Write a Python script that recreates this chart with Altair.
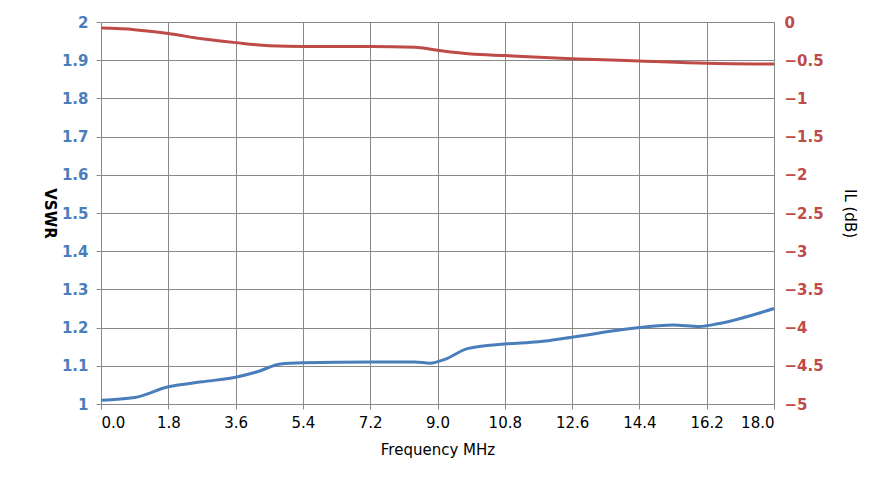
import altair as alt
import pandas as pd

freq_v = [0, 0.9, 1.8, 2.7, 3.6, 4.2, 4.8, 5.4, 7.2, 8.4, 8.8, 9.2, 9.8, 10.8, 11.7, 12.6, 14.4, 15.3, 16.0, 16.5, 18.0]
vswr = [1.01, 1.017, 1.045, 1.058, 1.07, 1.085, 1.105, 1.108, 1.11, 1.11, 1.107, 1.117, 1.145, 1.157, 1.163, 1.175, 1.2, 1.207, 1.203, 1.21, 1.25]
freq_i = [0, 0.9, 1.8, 2.7, 3.6, 4.5, 5.4, 7.2, 8.4, 9.0, 9.9, 10.8, 12.6, 14.4, 16.2, 18.0]
il = [-0.08, -0.1, -0.15, -0.22, -0.27, -0.31, -0.32, -0.32, -0.33, -0.37, -0.42, -0.44, -0.48, -0.51, -0.54, -0.55]
xticks = [0, 1.8, 3.6, 5.4, 7.2, 9.0, 10.8, 12.6, 14.4, 16.2, 18.0]

dv = pd.DataFrame({"f": freq_v, "v": vswr})
di = pd.DataFrame({"f": freq_i, "il": il})
font = "DejaVu Sans"
xenc = alt.X("f:Q", scale=alt.Scale(domain=[0, 18], nice=False),
             axis=alt.Axis(values=xticks, format=".1f", title="Frequency MHz", labelFontSize=15,
                           titleFontSize=15, titleFontWeight="normal", labelColor="black",
                           titleColor="black", gridColor="#888", domain=False, tickColor="#888",
                           labelFont=font, titleFont=font, titlePadding=12, labelPadding=6))
blue = "#4A7EBB"; red = "#BE4B48"
l1 = alt.Chart(dv).mark_line(color=blue, strokeWidth=3, interpolate="monotone").encode(
    x=xenc,
    y=alt.Y("v:Q", scale=alt.Scale(domain=[1, 2], nice=False),
            axis=alt.Axis(values=[1 + i / 10 for i in range(11)], format=".1~f", title="VSWR",
                          titleAngle=90, labelColor=blue, labelFontSize=15, labelFontWeight="bold",
                          titleFontSize=15, titleColor="black", gridColor="#888", domain=False,
                          tickColor="#888", labelFont=font, titleFont=font, titlePadding=20,
                          labelPadding=8)))
l2 = alt.Chart(di).mark_line(color=red, strokeWidth=3, interpolate="monotone").encode(
    x=alt.X("f:Q"),
    y=alt.Y("il:Q", scale=alt.Scale(domain=[-5, 0], nice=False),
            axis=alt.Axis(orient="right", values=[-5 + i * 0.5 for i in range(11)], format=".1~f",
                          title="IL (dB)", titleAngle=90, labelColor=red, labelFontSize=15,
                          labelFontWeight="bold", titleFontSize=15, titleFontWeight="normal",
                          titleColor="black", grid=False, domain=False, ticks=False,
                          labelFont=font, titleFont=font, titlePadding=18, labelPadding=10)))
chart = alt.layer(l1, l2).resolve_scale(y="independent").properties(
    width=673, height=382, autosize=alt.AutoSizeParams(type="none"),
    padding={"left": 93, "top": 14, "right": 100, "bottom": 88}
).configure_view(stroke=None)
chart.save("out.html", embed_options={"renderer": "svg", "actions": False})
